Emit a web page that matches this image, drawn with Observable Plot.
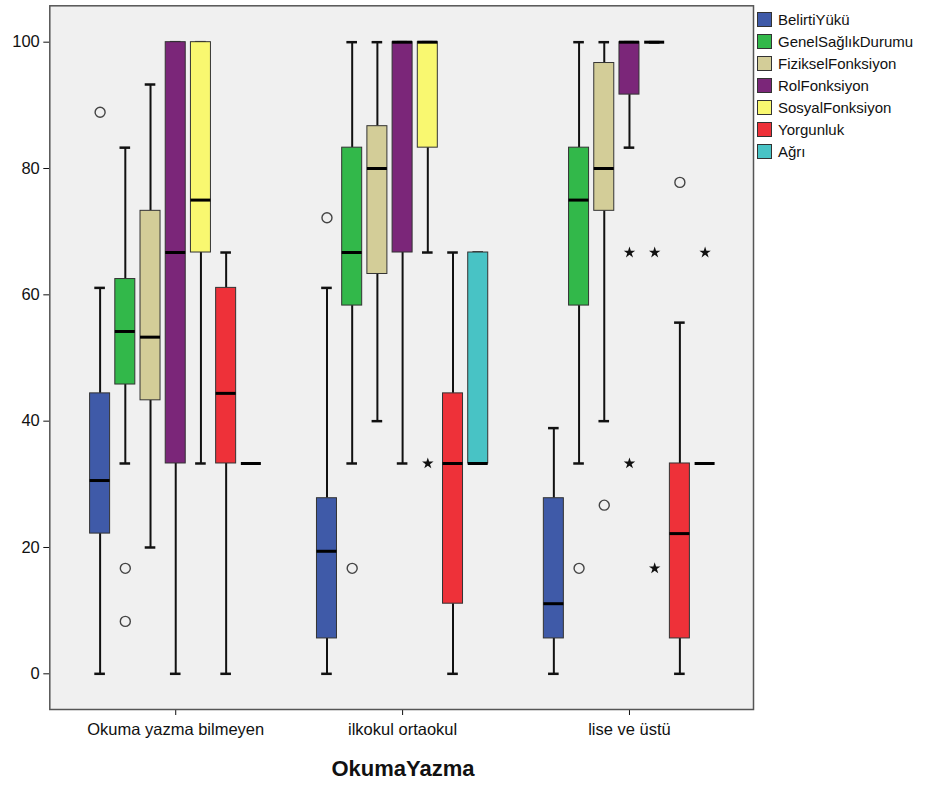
<!DOCTYPE html>
<html>
<head>
<meta charset="utf-8">
<script src="https://cdn.jsdelivr.net/npm/d3@7"></script>
<script src="https://cdn.jsdelivr.net/npm/@observablehq/plot@0.6"></script>
<style>
  html, body { margin: 0; padding: 0; background: #fff; }
  #wrap { position: relative; width: 931px; height: 785px; font-family: "Liberation Sans", Arial, sans-serif; }
  #legend { position: absolute; left: 757px; top: 8px; }
  .li { display: flex; align-items: center; height: 22px; font-size: 15px; color: #111; }
  .sw { width: 13px; height: 13px; border: 1px solid #333; margin-right: 6px; }
  #title { position: absolute; left: 0; width: 806px; top: 756px; text-align: center; font-weight: bold; font-size: 22px; color: #111; }
</style>
</head>
<body>
<div id="wrap">
  <div id="chart"></div>
  <div id="legend"></div>
  <div id="title">OkumaYazma</div>
</div>
<script>
// ---- data ----
const groups = ["Okuma yazma bilmeyen", "ilkokul ortaokul", "lise ve üstü"];
const series = ["BelirtiYükü", "GenelSağlıkDurumu", "FizikselFonksiyon", "RolFonksiyon", "SosyalFonksiyon", "Yorgunluk", "Ağrı"];
const colors = ["#3f5aa8", "#32b84a", "#d3cd98", "#7b2679", "#f9f870", "#ee3139", "#48c3c5"];
const yTicks = [0, 20, 40, 60, 80, 100];

// five-number summaries [lower whisker, Q1, median, Q3, upper whisker] per group
const BelirtiYuku       = [[0, 22.2, 30.6, 44.4, 61.1], [0, 5.6, 19.4, 27.8, 61.1], [0, 5.6, 11.1, 27.8, 38.9]];
const GenelSaglikDurumu = [[33.3, 45.8, 54.2, 62.5, 83.3], [33.3, 58.3, 66.7, 83.3, 100], [33.3, 58.3, 75, 83.3, 100]];
const FizikselFonksiyon = [[20, 43.3, 53.3, 73.3, 93.3], [40, 63.3, 80, 86.7, 100], [40, 73.3, 80, 96.7, 100]];
const RolFonksiyon      = [[0, 33.3, 66.7, 100, 100], [33.3, 66.7, 100, 100, 100], [83.3, 91.7, 100, 100, 100]];
const SosyalFonksiyon   = [[33.3, 66.7, 75, 100, 100], [66.7, 83.3, 100, 100, 100], [100, 100, 100, 100, 100]];
const Yorgunluk         = [[0, 33.3, 44.4, 61.1, 66.7], [0, 11.1, 33.3, 44.4, 66.7], [0, 5.6, 22.2, 33.3, 55.6]];
const Agri              = [[33.3, 33.3, 33.3, 33.3, 33.3], [33.3, 33.3, 33.3, 66.7, 66.7], [33.3, 33.3, 33.3, 33.3, 33.3]];
const summaries = [BelirtiYuku, GenelSaglikDurumu, FizikselFonksiyon, RolFonksiyon, SosyalFonksiyon, Yorgunluk, Agri];

// outliers (circles) and extremes (stars): [group index, series index, value]
const outlierPoints = [[0, 0, 88.9], [0, 1, 16.7], [0, 1, 8.3], [1, 0, 72.2], [1, 1, 16.7], [2, 1, 16.7], [2, 2, 26.7], [2, 5, 77.8]];
const extremePoints = [[1, 4, 33.3], [2, 3, 66.7], [2, 3, 33.3], [2, 4, 66.7], [2, 4, 16.7], [2, 6, 66.7]];

// ---- build tables ----
const keyOf = (g, s) => `${g}|${s}`;
const domain = [];
groups.forEach((g, gi) => {
  series.forEach((s, si) => domain.push(keyOf(gi, si)));
  if (gi < groups.length - 1) { domain.push(`gap${gi}a`); domain.push(`gap${gi}b`); }
});
const rows = [];
groups.forEach((g, gi) => series.forEach((s, si) => {
  const [lo, q1, med, q3, hi] = summaries[si][gi];
  rows.push({key: keyOf(gi, si), series: s, lo, q1, med, q3, hi});
}));
const circles = outlierPoints.map(([g, s, v]) => ({key: keyOf(g, s), v}));
const stars = extremePoints.map(([g, s, v]) => ({key: keyOf(g, s), v}));
const centerKeys = groups.map((g, gi) => keyOf(gi, 3));

const boxInset = 2.6, capInset = 7.3;
const chart = Plot.plot({
  width: 931,
  height: 785,
  marginLeft: 49.3,
  marginRight: 178,
  marginTop: 5.3,
  marginBottom: 76,
  style: {fontFamily: "'Liberation Sans', Arial, sans-serif", fontSize: "16.5px", color: "#111", background: "#fff", overflow: "visible"},
  x: {type: "band", domain, padding: 0, round: false, insetLeft: 37.7, insetRight: 35.8,
      ticks: centerKeys, tickFormat: k => groups[+k.split("|")[0]], tickSize: 6, tickPadding: 8, label: null},
  y: {domain: [-5.65, 105.76], ticks: yTicks, tickSize: 6, tickPadding: 4, label: null},
  color: {domain: series, range: colors},
  marks: [
    Plot.frame({fill: "#f0f0f0", stroke: "none"}),
    Plot.ruleX(rows, {x: "key", y1: "lo", y2: "q1", stroke: "#111", strokeWidth: 2}),
    Plot.ruleX(rows, {x: "key", y1: "q3", y2: "hi", stroke: "#111", strokeWidth: 2}),
    Plot.tickY(rows, {x: "key", y: "lo", stroke: "#111", strokeWidth: 2.5, insetLeft: capInset, insetRight: capInset}),
    Plot.tickY(rows, {x: "key", y: "hi", stroke: "#111", strokeWidth: 2.5, insetLeft: capInset, insetRight: capInset}),
    Plot.barY(rows, {x: "key", y1: "q1", y2: "q3", fill: "series", stroke: "#333", strokeWidth: 1, insetLeft: boxInset, insetRight: boxInset}),
    Plot.tickY(rows, {x: "key", y: "med", stroke: "#000", strokeWidth: 3, insetLeft: boxInset, insetRight: boxInset}),
    Plot.dot(circles, {x: "key", y: "v", r: 5, stroke: "#444", strokeWidth: 1.4, fill: "none"}),
    Plot.dot(stars, {x: "key", y: "v", r: 3.6, symbol: "star", fill: "#111", stroke: "none"}),
    Plot.frame({stroke: "#555", strokeWidth: 1.5})
  ]
});
document.getElementById("chart").appendChild(chart);

// legend
const lg = document.getElementById("legend");
series.forEach((s, i) => {
  const row = document.createElement("div");
  row.className = "li";
  const sw = document.createElement("div");
  sw.className = "sw";
  sw.style.background = colors[i];
  const t = document.createElement("span");
  t.textContent = s;
  row.appendChild(sw); row.appendChild(t);
  lg.appendChild(row);
});
</script>
</body>
</html>
